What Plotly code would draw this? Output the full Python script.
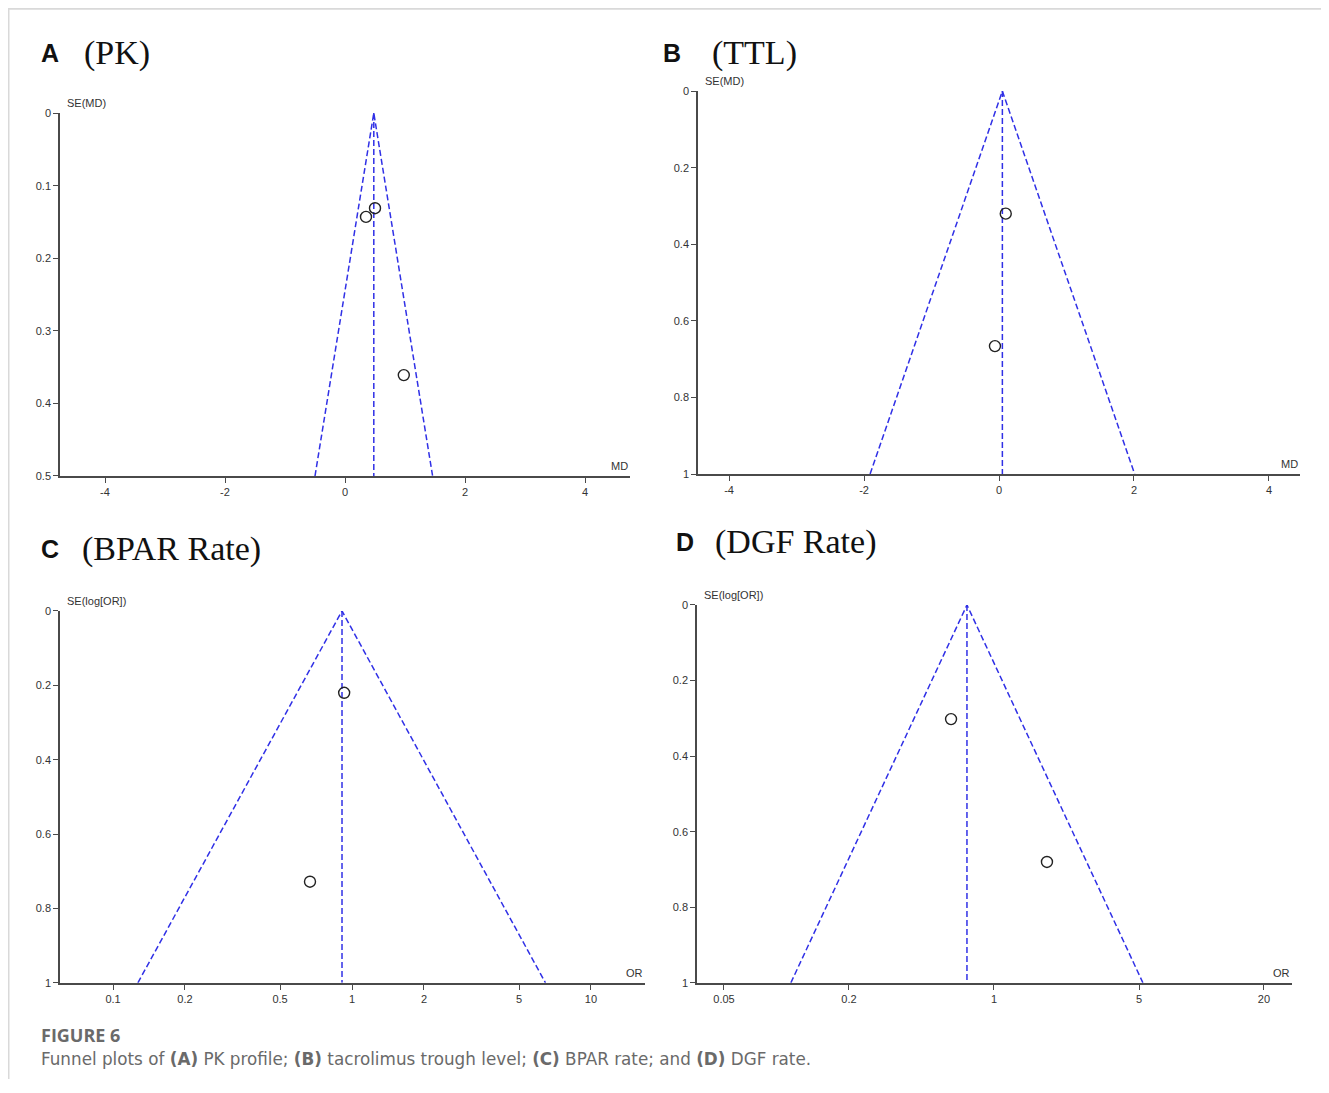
import plotly.graph_objects as go

# ---------------- data ----------------
# Panel A (PK): mean difference vs SE(MD)
md_a = [0.35, 0.50, 0.98]
se_a = [0.143, 0.131, 0.361]
funnel_a_x = [-0.50, 0.48, 1.46]      # left base, apex (pooled), right base
funnel_a_se = [0.5, 0.0, 0.5]

# Panel B (TTL)
md_b = [0.10, -0.06]
se_b = [0.32, 0.666]
funnel_b_x = [-1.91, 0.05, 2.01]
funnel_b_se = [1.0, 0.0, 1.0]

# Panel C (BPAR Rate): odds ratio vs SE(log[OR])
or_c = [0.927, 0.667]
se_c = [0.22, 0.728]
funnel_c_x = [0.127, 0.908, 6.45]
funnel_c_se = [1.0, 0.0, 1.0]

# Panel D (DGF Rate)
or_d = [0.621, 1.80]
se_d = [0.302, 0.68]
funnel_d_x = [0.105, 0.741, 5.22]
funnel_d_se = [1.0, 0.0, 1.0]

# tick labels
md_ticks_a = [-4, -2, 0, 2, 4]
se_ticks_a = [0, 0.1, 0.2, 0.3, 0.4, 0.5]
md_ticks_b = [-4, -2, 0, 2, 4]
se_ticks_b = [0, 0.2, 0.4, 0.6, 0.8, 1]
or_ticks_c = [0.1, 0.2, 0.5, 1, 2, 5, 10]
or_ticks_d = [0.05, 0.2, 1, 5, 20]
se_ticks_cd = [0, 0.2, 0.4, 0.6, 0.8, 1]

# ---------------- layout helpers ----------------
W, H = 1313, 1077
OFF = 8


def X(px):
    return (px - OFF) / W


def Y(py):
    py = 548 + (py - 548) * 1.011
    return 1 - (py - OFF) / H


BLUE = "#3030e6"
AXC = "#4a4a4a"
TICKFONT = dict(family="Liberation Sans, Arial", size=11, color="#333333")

fig = go.Figure()

panels = [
    dict(x=md_a, y=se_a, fx=funnel_a_x, fs=funnel_a_se, xtype="linear",
         xr=[-4.75, 4.75], xt=md_ticks_a, yt=se_ticks_a, yr=[0.5, 0],
         dom=(60, 630, 113, 476), xl="MD", yl="SE(MD)"),
    dict(x=md_b, y=se_b, fx=funnel_b_x, fs=funnel_b_se, xtype="linear",
         xr=[-4.46, 4.46], xt=md_ticks_b, yt=se_ticks_b, yr=[1, 0],
         dom=(698, 1300, 91, 474), xl="MD", yl="SE(MD)"),
    dict(x=or_c, y=se_c, fx=funnel_c_x, fs=funnel_c_se, xtype="log",
         xr=[-1.222, 1.226], xt=or_ticks_c, yt=se_ticks_cd, yr=[1, 0],
         dom=(60, 645, 611, 983), xl="OR", yl="SE(log[OR])"),
    dict(x=or_d, y=se_d, fx=funnel_d_x, fs=funnel_d_se, xtype="log",
         xr=[-1.431, 1.436], xt=or_ticks_d, yt=se_ticks_cd, yr=[1, 0],
         dom=(697, 1292, 605, 983), xl="OR", yl="SE(log[OR])"),
]

annotations = []
for i, p in enumerate(panels, start=1):
    xa = "x" if i == 1 else f"x{i}"
    ya = "y" if i == 1 else f"y{i}"
    fig.add_trace(go.Scatter(x=p["fx"], y=p["fs"], mode="lines", xaxis=xa, yaxis=ya,
                             line=dict(color=BLUE, width=1.5, dash="6px,3px"),
                             hoverinfo="skip", showlegend=False, cliponaxis=False))
    fig.add_trace(go.Scatter(x=[p["fx"][1], p["fx"][1]], y=[p["fs"][1], p["fs"][0]],
                             mode="lines", xaxis=xa, yaxis=ya,
                             line=dict(color=BLUE, width=1.5, dash="6px,3px"),
                             hoverinfo="skip", showlegend=False, cliponaxis=False))
    fig.add_trace(go.Scatter(x=p["x"], y=p["y"], mode="markers", xaxis=xa, yaxis=ya,
                             marker=dict(symbol="circle-open", size=11, color="#222222",
                                         line=dict(width=1.4)),
                             showlegend=False, cliponaxis=False))
    l, r, t, b = p["dom"]
    xkey = "xaxis" if i == 1 else f"xaxis{i}"
    ykey = "yaxis" if i == 1 else f"yaxis{i}"
    fig.update_layout(**{
        xkey: dict(domain=[X(l), X(r)], anchor=ya, type=p["xtype"], range=p["xr"],
                   tickvals=p["xt"], ticktext=[str(v) for v in p["xt"]],
                   showline=True, linecolor=AXC, linewidth=1.5, ticks="outside",
                   ticklen=5, tickcolor=AXC, tickwidth=1.2, showgrid=False, zeroline=False,
                   tickfont=TICKFONT, fixedrange=True),
        ykey: dict(domain=[Y(b), Y(t)], anchor=xa, range=p["yr"],
                   tickvals=p["yt"], ticktext=[f"{v:g}" for v in p["yt"]],
                   showline=True, linecolor=AXC, linewidth=1.5, ticks="outside",
                   ticklen=5, tickcolor=AXC, tickwidth=1.2, showgrid=False, zeroline=False,
                   tickfont=TICKFONT, fixedrange=True),
    })
    annotations.append(dict(xref="paper", yref="paper", x=X(l + 5), y=Y(t - 2),
                            xanchor="left", yanchor="bottom", text=p["yl"], showarrow=False,
                            font=TICKFONT))
    annotations.append(dict(xref="paper", yref="paper", x=X(r), y=Y(b - 2),
                            xanchor="right", yanchor="bottom", text=p["xl"], showarrow=False,
                            font=TICKFONT))

# panel titles
titles = [("A", "(PK)", 39, 82, 53), ("B", "(TTL)", 661, 710, 53),
          ("C", "(BPAR Rate)", 39, 80, 549), ("D", "(DGF Rate)", 674, 713, 542)]
for letter, name, lx, nx, cy in titles:
    annotations.append(dict(xref="paper", yref="paper", x=X(lx), y=Y(cy), xanchor="left",
                            yanchor="middle", text=f"<b>{letter}</b>", showarrow=False,
                            font=dict(family="Liberation Sans, Arial", size=25, color="#111111")))
    annotations.append(dict(xref="paper", yref="paper", x=X(nx), y=Y(cy), xanchor="left",
                            yanchor="middle", text=name, showarrow=False,
                            font=dict(family="Liberation Serif, Times New Roman", size=34,
                                      color="#111111")))

# caption
annotations.append(dict(xref="paper", yref="paper", x=X(39), y=Y(1035), xanchor="left",
                        yanchor="middle", text="<b>FIGURE 6</b>", showarrow=False,
                        font=dict(family="Open Sans", size=18, color="#6a6a6a")))
annotations.append(dict(xref="paper", yref="paper", x=X(39), y=Y(1059), xanchor="left",
                        yanchor="middle",
                        text="Funnel plots of <b>(A)</b> PK profile; <b>(B)</b> tacrolimus trough level; "
                             "<b>(C)</b> BPAR rate; and <b>(D)</b> DGF rate.",
                        showarrow=False,
                        font=dict(family="DejaVu Sans", size=16.8, color="#6a6a6a")))

shapes = [
    dict(type="line", xref="paper", yref="paper", x0=X(8), x1=X(1321), y0=Y(8.5), y1=Y(8.5),
         line=dict(color="#d9d9d9", width=2)),
    dict(type="line", xref="paper", yref="paper", x0=X(8.5), x1=X(8.5), y0=Y(8), y1=0,
         line=dict(color="#d9d9d9", width=2)),
]

fig.update_layout(width=W, height=H, autosize=False,
                  margin=dict(l=0, r=0, t=0, b=0),
                  paper_bgcolor="white", plot_bgcolor="white",
                  annotations=annotations, shapes=shapes, showlegend=False)

fig.write_html("out.html")
